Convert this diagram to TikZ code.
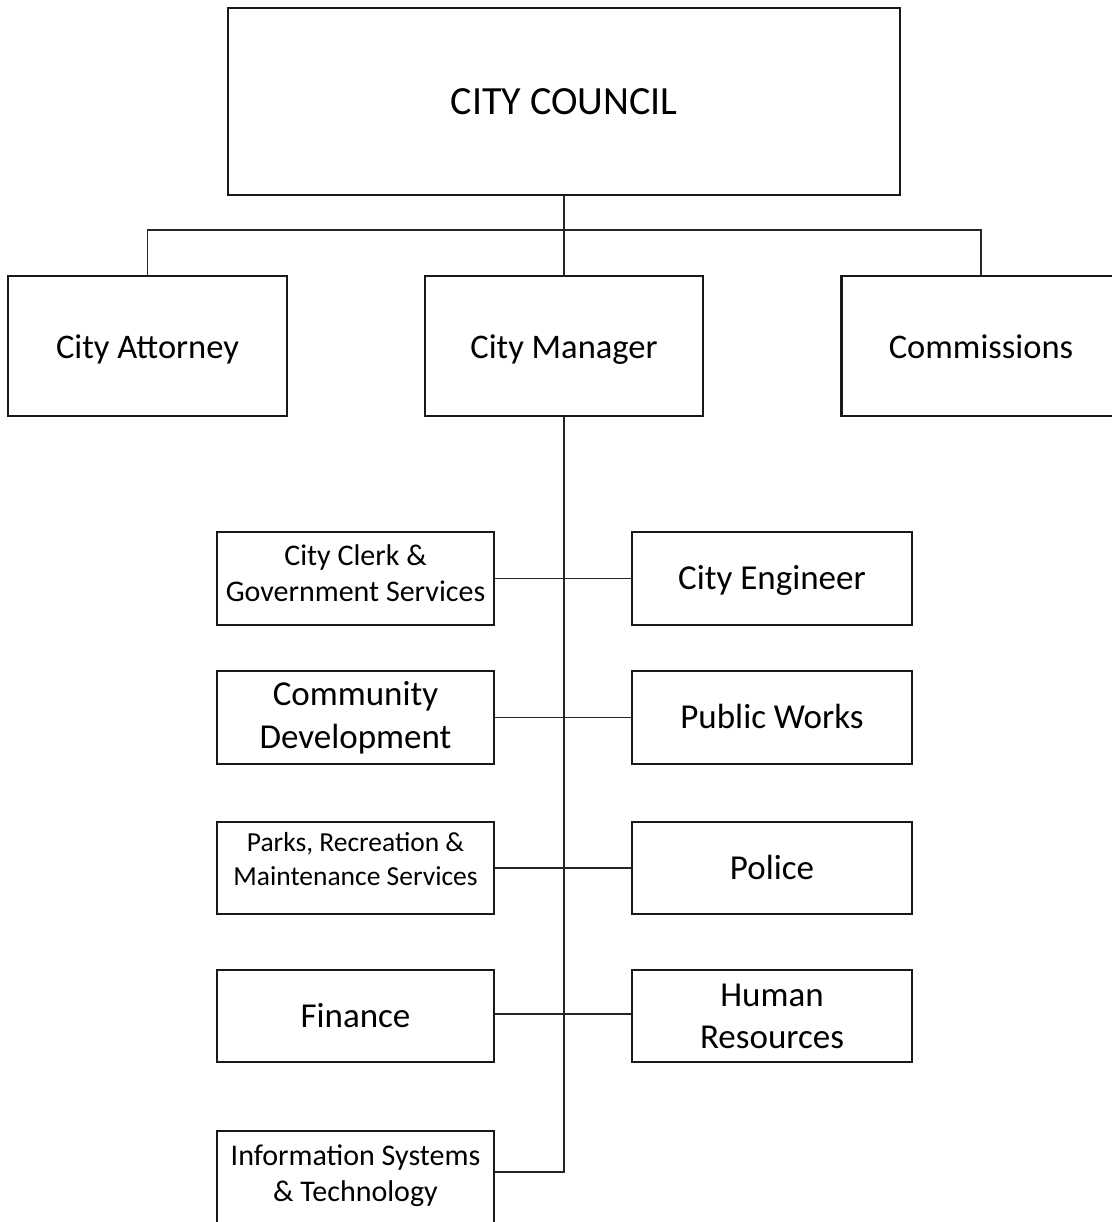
\documentclass[tikz,border=0pt]{standalone}
\usepackage{fontspec}
\setmainfont{Carlito}
\newcommand{\upby}[2]{\raisebox{0pt}[\height][\dimexpr\depth+#1\relax]{#2}}
\begin{document}
\begin{tikzpicture}[x=1pt,y=-1pt,
  box/.style={draw=black!90, line width=2.6pt, rectangle, inner sep=0pt, align=center, text=black},
  big/.style={font=\fontsize{34.5}{41}\selectfont, text height=24, text depth=0},
  mid/.style={font=\fontsize{35}{43}\selectfont},
  one/.style={mid, text height=22, text depth=0},
  conn/.style={draw=black!85, line width=1.8pt}]
\useasboundingbox (0,0) rectangle (1111,1222);
% top
\node[box, minimum width=672, minimum height=187, font=\fontsize{40}{48}\selectfont] (council) at (564,101.5) {CITY COUNCIL};
\node[box, big, minimum width=279, minimum height=140] (ca) at (147.5,346) {City Attorney};
\node[box, big, minimum width=278, minimum height=140] (cm) at (564,346) {City Manager};
\node[box, big, minimum width=279, minimum height=140] (com) at (981,346) {Commissions};
\coordinate (bus) at (564,230);
\draw[conn] (council.south) -- (cm.north);
\draw[conn] (ca.north) |- (bus) -| (com.north);
% left column
\node[box, minimum width=277, minimum height=93, font=\fontsize{30}{36.5}\selectfont] (clerk) at (355.5,578.5) {\upby{5pt}{\begin{tabular}{@{}c@{}}City Clerk \&\\Government Services\end{tabular}}};
\node[box, mid, minimum width=277, minimum height=93] (cd) at (355.5,717.5) {Community\\Development};
\node[box, minimum width=277, minimum height=92, font=\fontsize{27.5}{34}\selectfont] (parks) at (355.5,868) {\upby{12pt}{\begin{tabular}{@{}c@{}}Parks, Recreation \&\\Maintenance Services\end{tabular}}};
\node[box, mid, minimum width=277, minimum height=92] (fin) at (355.5,1016) {Finance};
\node[box, minimum width=277, minimum height=93, font=\fontsize{30}{36}\selectfont] (is) at (355.5,1177.5) {\upby{3pt}{\begin{tabular}{@{}c@{}}Information Systems\\\& Technology\end{tabular}}};
% right column
\node[box, one, minimum width=280, minimum height=93] (eng) at (772,578.5) {City Engineer};
\node[box, one, minimum width=280, minimum height=93] (pw) at (772,717.5) {Public Works};
\node[box, one, minimum width=280, minimum height=92] (pol) at (772,868) {Police};
\node[box, mid, minimum width=280, minimum height=92, font=\fontsize{35}{42}\selectfont] (hr) at (772,1016) {Human\\Resources};
% connectors
\draw[conn] (cm.south) |- ([yshift=5.5]is.east);
\draw[conn] (clerk.east) -- (eng.west);
\draw[conn] (cd.east) -- (pw.west);
\draw[conn] (parks.east) -- (pol.west);
\draw[conn] ([yshift=2]fin.east) -- ([yshift=2]hr.west);
\end{tikzpicture}
\end{document}
